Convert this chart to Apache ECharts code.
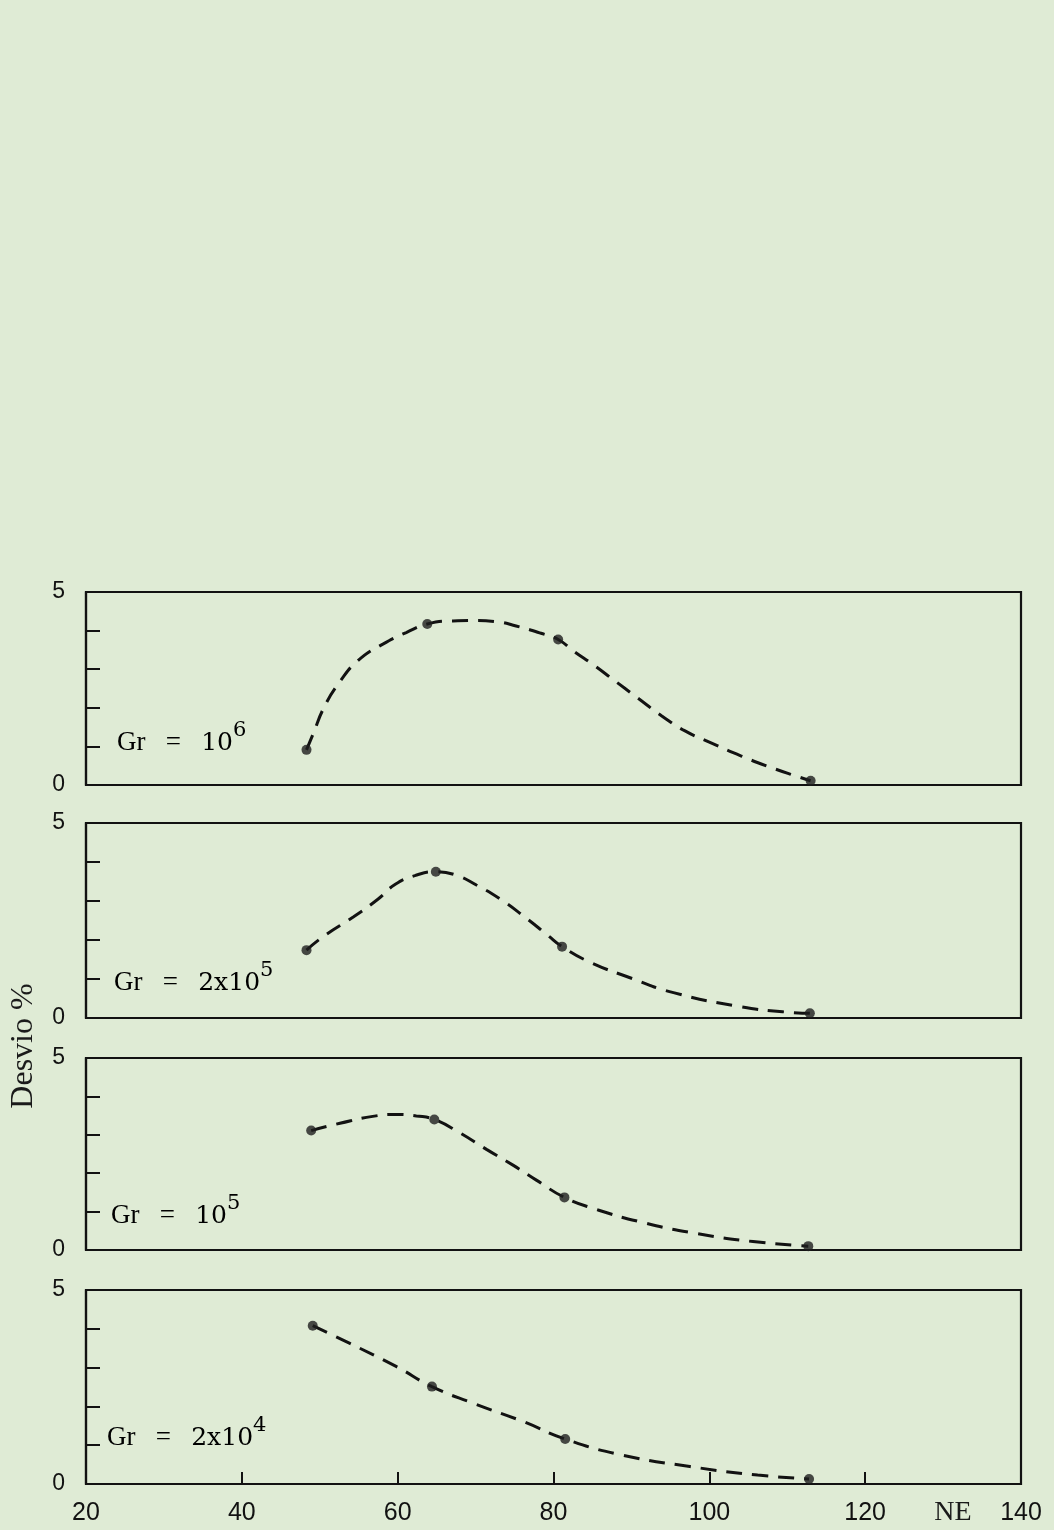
<!DOCTYPE html>
<html><head><meta charset="utf-8">
<script src="https://cdn.jsdelivr.net/npm/echarts@6/dist/echarts.min.js"></script>
<style>html,body{margin:0;padding:0;background:#dfebd5}#c{width:1054px;height:1530px}</style>
</head><body><div id="c"></div>
<script>
// ---- data ----
const xTicks = [20, 40, 60, 80, 100, 120, 140];
const panelLabels = [['10', '6'], ['2x10', '5'], ['10', '5'], ['2x10', '4']];

// Gr = 10^6
const neA = [48.3, 63.8, 80.6, 113.0];
const devA = [0.91, 4.17, 3.77, 0.11];
const curveNeA = [48.3, 49.1, 50.6, 52.6, 54.9, 58.1, 61.1, 63.8, 67.1, 69.9, 72.7, 75.2, 78.4, 80.6, 82.7, 85.0, 87.6, 90.7, 93.9, 96.7, 100.0, 104.1, 108.1, 111.3, 113.0];
const curveDevA = [0.91, 1.30, 2.03, 2.68, 3.22, 3.65, 3.95, 4.17, 4.25, 4.26, 4.23, 4.12, 3.93, 3.77, 3.45, 3.13, 2.74, 2.27, 1.79, 1.42, 1.11, 0.75, 0.44, 0.22, 0.11];

// Gr = 2x10^5
const neB = [48.3, 64.9, 81.1, 112.9];
const devB = [1.74, 3.75, 1.83, 0.12];
const curveNeB = [48.3, 50.4, 54.3, 57.5, 59.7, 62.2, 64.9, 67.4, 70.1, 73.3, 76.5, 79.2, 81.1, 84.6, 90.0, 95.4, 104.0, 109.4, 112.9];
const curveDevB = [1.74, 2.08, 2.59, 3.05, 3.43, 3.65, 3.75, 3.67, 3.41, 3.03, 2.56, 2.13, 1.83, 1.44, 1.02, 0.65, 0.29, 0.16, 0.12];

// Gr = 10^5
const neC = [48.9, 64.7, 81.4, 112.7];
const devC = [3.11, 3.40, 1.37, 0.10];
const curveNeC = [48.9, 52.6, 56.8, 59.8, 62.4, 64.7, 67.9, 71.4, 74.8, 77.8, 81.4, 85.0, 91.0, 98.3, 105.6, 112.7];
const curveDevC = [3.11, 3.30, 3.48, 3.53, 3.49, 3.40, 3.06, 2.62, 2.21, 1.82, 1.37, 1.09, 0.74, 0.43, 0.22, 0.10];

// Gr = 2x10^4
const neD = [49.1, 64.4, 81.5, 112.8];
const devD = [4.08, 2.51, 1.16, 0.13];
const curveNeD = [49.1, 53.8, 59.8, 64.4, 69.7, 76.1, 81.5, 88.7, 97.5, 106.2, 112.8];
const curveDevD = [4.08, 3.63, 3.03, 2.51, 2.08, 1.61, 1.16, 0.75, 0.45, 0.23, 0.13];

// ---- chart ----
const zip = (a, b) => a.map((v, i) => [v, b[i]]);
const panels = [
  {ne: neA, dev: devA, cne: curveNeA, cdev: curveDevA},
  {ne: neB, dev: devB, cne: curveNeB, cdev: curveDevB},
  {ne: neC, dev: devC, cne: curveNeC, cdev: curveDevC},
  {ne: neD, dev: devD, cne: curveNeD, cdev: curveDevD}
];
const gridBoxes = [[592, 193], [823, 195], [1058, 192], [1290, 194]];
const labelPos = [[117, 738], [114, 978], [111, 1211], [107, 1433]];
const ink = '#121212';
const serif = 'Liberation Serif';
const serif2 = 'DejaVu Serif';
const sans = 'Liberation Sans';

const grid = gridBoxes.map(g => ({left: 86, right: 33, top: g[0], height: g[1], show: true,
  borderColor: ink, borderWidth: 2.2, backgroundColor: 'transparent'}));

const xAxis = gridBoxes.map((g, i) => {
  const last = i === gridBoxes.length - 1;
  return {type: 'value', gridIndex: i, min: xTicks[0], max: xTicks[xTicks.length - 1], interval: 20,
    axisLine: {show: true, lineStyle: {color: ink, width: 2.2}},
    axisTick: {show: last, inside: true, length: 12, lineStyle: {color: ink, width: 2}},
    axisLabel: {show: last, margin: 17, fontFamily: sans, fontSize: 25, color: ink},
    splitLine: {show: false}};
});
const yAxis = gridBoxes.map((g, i) => ({type: 'value', gridIndex: i, min: 0, max: 5, interval: 1,
  axisLine: {show: true, lineStyle: {color: ink, width: 2.2}},
  axisTick: {show: true, inside: true, length: 14, lineStyle: {color: ink, width: 2}},
  axisLabel: {margin: 21, fontFamily: sans, fontSize: 23, color: ink, padding: [7, 0, 0, 0],
    formatter: v => (v === 0 || v === 5) ? String(v) : ''},
  splitLine: {show: false}}));

const series = [];
panels.forEach((p, i) => {
  series.push({type: 'line', xAxisIndex: i, yAxisIndex: i, data: zip(p.cne, p.cdev),
    smooth: 0.5, showSymbol: false, symbol: 'none',
    lineStyle: {type: [16, 10], width: 3, color: ink}, z: 2});
  series.push({type: 'scatter', xAxisIndex: i, yAxisIndex: i, data: zip(p.ne, p.dev),
    symbolSize: 10, itemStyle: {color: '#1e1e1e'}, z: 3});
});

const graphic = panelLabels.map((t, i) => ({type: 'text', x: labelPos[i][0], y: labelPos[i][1],
  style: {text: '{g|Gr   =   }{d|' + t[0] + '}{s|' + t[1] + '}',
    verticalAlign: 'middle', align: 'left',
    rich: {
      g: {fontFamily: serif, fontSize: 27, color: '#1a1a1a', lineHeight: 36, verticalAlign: 'bottom'},
      d: {fontFamily: serif2, fontSize: 25, color: '#1a1a1a', lineHeight: 36, verticalAlign: 'bottom'},
      s: {fontFamily: serif2, fontSize: 21, color: '#1a1a1a', lineHeight: 22, verticalAlign: 'top'}
    }}}));
graphic.push({type: 'text', x: 24, y: 1046, rotation: Math.PI / 2,
  style: {text: 'Desvio %', fontFamily: serif, fontSize: 32, fill: '#1a1a1a', align: 'center', verticalAlign: 'middle'}});
graphic.push({type: 'text', x: 953, y: 1513,
  style: {text: 'NE', fontFamily: serif, fontSize: 28, fill: '#1a1a1a', align: 'center', verticalAlign: 'middle'}});

const chart = echarts.init(document.getElementById('c'), null, {renderer: 'canvas'});
chart.setOption({backgroundColor: '#dfebd5', animation: false, grid, xAxis, yAxis, series, graphic});
</script></body></html>
